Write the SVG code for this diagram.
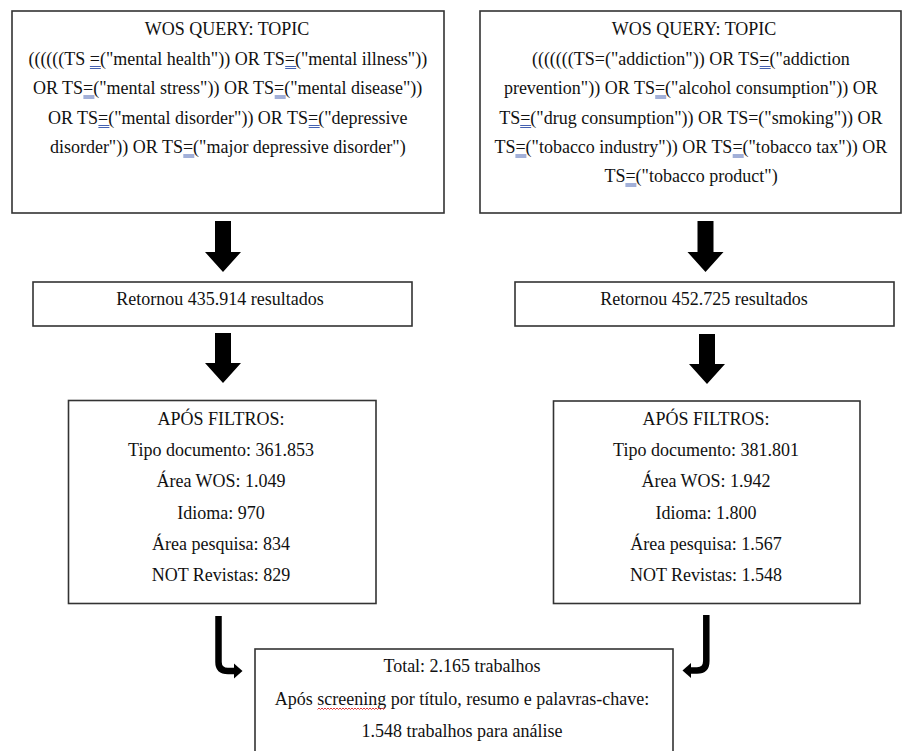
<svg xmlns="http://www.w3.org/2000/svg" width="903" height="751" viewBox="0 0 903 751">
<style>
.box{fill:#fff;stroke:#333;stroke-width:1.6}
.t{font-family:"Liberation Serif","Times New Roman",serif;font-size:18px;fill:#111}
.c{text-anchor:middle}
.u{stroke:#2f4fa8;stroke-width:0.9;fill:none}
.arr{fill:#000}
.curve{fill:none;stroke:#000;stroke-width:6.5}
</style>
<rect width="903" height="751" fill="#fff"/>
<g id="query-mental">
<rect class="box" x="12" y="11" width="432" height="202"/>
<text class="t c" x="227" y="35">WOS QUERY: TOPIC</text>
<text class="t" x="28.4" y="64.5">((((((TS =("mental health")) OR TS=("mental illness"))</text>
<text class="t" x="32.9" y="94">OR TS=("mental stress")) OR TS=("mental disease"))</text>
<text class="t" x="47.9" y="123.5">OR TS=("mental disorder")) OR TS=("depressive</text>
<text class="t" x="49.9" y="153">disorder")) OR TS=("major depressive disorder")</text>
<path class="u" d="M89.9,66.5h11M89.9,68.5h11M285.2,66.5h11M285.2,68.5h11M83.4,96h11M83.4,98h11M274.7,96h11M274.7,98h11M98.4,125.5h11M98.4,127.5h11M308.7,125.5h11M308.7,127.5h11M183.3,155h11M183.3,157h11"/>
</g>
<g id="query-addiction">
<rect class="box" x="480" y="11" width="421" height="202"/>
<text class="t c" x="694" y="35">WOS QUERY: TOPIC</text>
<text class="t" x="531.9" y="64.5">(((((((TS=("addiction")) OR TS=("addiction</text>
<text class="t" x="503.9" y="94">prevention")) OR TS=("alcohol consumption")) OR</text>
<text class="t" x="499.2" y="123.5">TS=("drug consumption")) OR TS=("smoking")) OR</text>
<text class="t" x="494.4" y="153">TS=("tobacco industry")) OR TS=("tobacco tax")) OR</text>
<text class="t" x="604.4" y="182">TS=("tobacco product")</text>
<path class="u" d="M759.7,66.5h11M759.7,68.5h11M655.2,96h11M655.2,98h11M520.2,125.5h11M520.2,127.5h11M515.4,155h11M515.4,157h11M732.7,155h11M732.7,157h11M625.4,184h11M625.4,186h11"/>
</g>
<g id="result-mental">
<rect class="box" x="33" y="282" width="379" height="44"/>
<text class="t c" x="220" y="305">Retornou 435.914 resultados</text>
</g>
<g id="result-addiction">
<rect class="box" x="515" y="282" width="379" height="44"/>
<text class="t c" x="704" y="305">Retornou 452.725 resultados</text>
</g>
<g id="filters-mental">
<rect class="box" x="68.5" y="400.5" width="307.5" height="203"/>
<text class="t c" x="221" y="425">APÓS FILTROS:</text>
<text class="t c" x="221" y="456.2">Tipo documento: 361.853</text>
<text class="t c" x="221" y="487.4">Área WOS: 1.049</text>
<text class="t c" x="221" y="518.6">Idioma: 970</text>
<text class="t c" x="221" y="549.8">Área pesquisa: 834</text>
<text class="t c" x="221" y="581">NOT Revistas: 829</text>
</g>
<g id="filters-addiction">
<rect class="box" x="553.5" y="401" width="306.5" height="202.5"/>
<text class="t c" x="706" y="425">APÓS FILTROS:</text>
<text class="t c" x="706" y="456.2">Tipo documento: 381.801</text>
<text class="t c" x="706" y="487.4">Área WOS: 1.942</text>
<text class="t c" x="706" y="518.6">Idioma: 1.800</text>
<text class="t c" x="706" y="549.8">Área pesquisa: 1.567</text>
<text class="t c" x="706" y="581">NOT Revistas: 1.548</text>
</g>
<g id="total">
<rect class="box" x="255" y="649" width="418" height="115"/>
<text class="t c" x="462" y="672">Total: 2.165 trabalhos</text>
<text class="t c" x="462" y="705">Após screening por título, resumo e palavras-chave:</text>
<text class="t c" x="462" y="737">1.548 trabalhos para análise</text>
<path d="M317.5,709.5 l1.5,-1.5 l1.5,1.5 l1.5,-1.5 l1.5,1.5 l1.5,-1.5 l1.5,1.5 l1.5,-1.5 l1.5,1.5 l1.5,-1.5 l1.5,1.5 l1.5,-1.5 l1.5,1.5 l1.5,-1.5 l1.5,1.5 l1.5,-1.5 l1.5,1.5 l1.5,-1.5 l1.5,1.5 l1.5,-1.5 l1.5,1.5 l1.5,-1.5 l1.5,1.5 l1.5,-1.5 l1.5,1.5 l1.5,-1.5 l1.5,1.5 l1.5,-1.5 l1.5,1.5 l1.5,-1.5 l1.5,1.5 l1.5,-1.5 l1.5,1.5 l1.5,-1.5 l1.5,1.5 l1.5,-1.5 l1.5,1.5 l1.5,-1.5 l1.5,1.5 l1.5,-1.5 l1.5,1.5 l1.5,-1.5 l1.5,1.5 l1.5,-1.5 l1.5,1.5 l1.5,-1.5" fill="none" stroke="#d22" stroke-width="0.9"/>
</g>
<g id="connectors">
<polygon class="arr" points="215,221 231,221 231,252 241,252 223,272 205,252 215,252"/>
<polygon class="arr" points="215,333 231,333 231,363 241,363 223,383 205,363 215,363"/>
<polygon class="arr" points="697.5,221 713.5,221 713.5,252 723.5,252 705.5,272 687.5,252 697.5,252"/>
<polygon class="arr" points="699,334 715,334 715,364 725,364 707,384 689,364 699,364"/>
<path class="curve" d="M218.5,616 V662 Q218.5,671 228,671 H236"/>
<polygon class="arr" points="234,663.5 242.5,671 234,678.5"/>
<path class="curve" d="M706.3,615 V661 Q706.3,670.5 697,670.5 H689"/>
<polygon class="arr" points="691,663 682.5,670.5 691,678"/>
</g>
</svg>
